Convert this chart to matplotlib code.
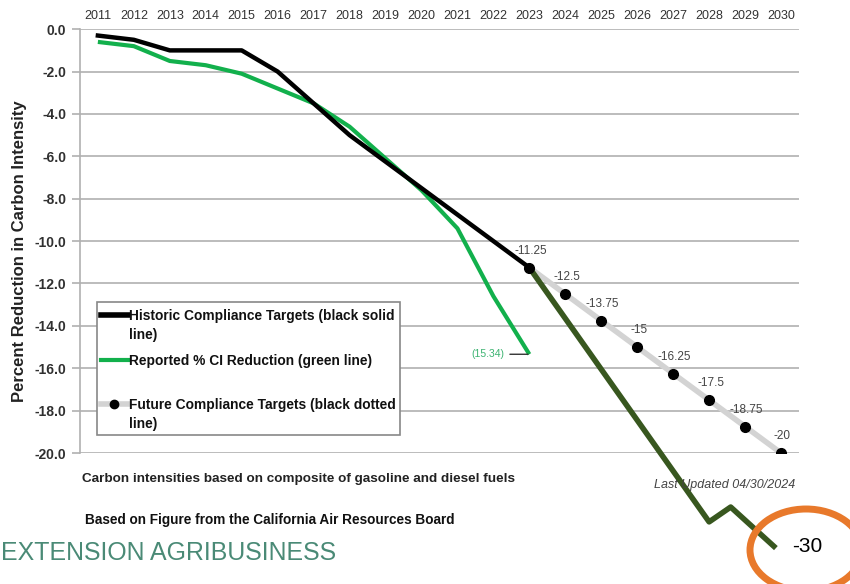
import matplotlib
matplotlib.use('Agg')
import matplotlib.pyplot as plt
from matplotlib.lines import Line2D
from matplotlib.patches import Ellipse, Rectangle
from matplotlib.transforms import ScaledTranslation

plt.rcParams['font.family'] = ['Liberation Sans', 'DejaVu Sans']

# data
years = [2011, 2012, 2013, 2014, 2015, 2016, 2017, 2018, 2019, 2020, 2021, 2022, 2023]
historic = [-0.3, -0.5, -1.0, -1.0, -1.0, -2.0, -3.5, -5.0, -6.25, -7.5, -8.75, -10.0, -11.25]
reported = [-0.6, -0.8, -1.5, -1.7, -2.1, -2.8, -3.5, -4.6, -6.1, -7.6, -9.4, -12.6, -15.34]

future_years = [2023, 2024, 2025, 2026, 2027, 2028, 2029, 2030]
future = [-11.25, -12.5, -13.75, -15, -16.25, -17.5, -18.75, -20]

# hand drawn trajectory toward -30 (runs below the plot area)
drawn_x = [2023, 2028, 2028.6, 2029.8]
drawn_y = [-11.25, -23.25, -22.55, -24.4]

year_ticks = list(range(2011, 2031))
y_ticks = [0, -2, -4, -6, -8, -10, -12, -14, -16, -18, -20]

W, H = 850, 584


def fx(px):
    return px / W


def fy(py):
    return 1 - py / H


fig = plt.figure(figsize=(8.5, 5.84), dpi=100)
ax = fig.add_axes([0.094, 0.2243, 0.846, 0.7257])

ax.set_xlim(2010.5, 2030.5)
ax.set_ylim(-20, 0)
ax.set_yticks(y_ticks)
ax.set_yticklabels([f'{v:.1f}' for v in y_ticks], fontweight='bold', fontsize=10, color='#303030')
ax.set_xticks(year_ticks)
ax.set_xticklabels([str(y) for y in year_ticks], fontsize=9, color='#333333')
ax.xaxis.tick_top()
ax.tick_params(axis='x', length=0, pad=5)
ax.tick_params(axis='y', length=6, color='#b0b0b0', width=1.2, pad=4)
ax.grid(axis='y', color='#b0b0b0', lw=1.2)
ax.set_axisbelow(True)
for s in ['top', 'right', 'bottom']:
    ax.spines[s].set_visible(False)
ax.spines['left'].set_color('#b0b0b0')
ax.spines['left'].set_linewidth(1.2)

ax.plot(years, reported, color='#12B04C', lw=3, zorder=3, solid_capstyle='butt')
ax.plot(years, historic, color='black', lw=3.2, zorder=4)
ax.plot(future_years, future, color='#d3d3d3', lw=4, zorder=5)
ax.plot(drawn_x, drawn_y, color='#38571f', lw=4, zorder=6, clip_on=False)
ax.plot(future_years, future, ls='none', marker='o', ms=7, color='black', zorder=7)

for x, v in zip(future_years, future):
    ax.annotate(f'{v:g}', (x, v), xytext=(1, 12), textcoords='offset points',
                ha='center', va='center', fontsize=8.5, color='#444444')

ax.annotate('(15.34)', (years[-1], reported[-1]), xytext=(-18, 0), textcoords='offset points',
            ha='right', va='center', fontsize=7.5, color='#3cb371',
            arrowprops=dict(arrowstyle='-', color='#333333', lw=1, shrinkA=2, shrinkB=1))

# legend box, drawn by hand to get the two-line entries like the original
fig.add_artist(Rectangle((fx(97), fy(435)), fx(400) - fx(97), fy(302) - fy(435),
                         transform=fig.transFigure, fc='white', ec='#888888', lw=1.2, zorder=10))
leg_items = [
    (315, dict(color='black', lw=4), 'Historic Compliance Targets (black solid\nline)'),
    (360, dict(color='#12B04C', lw=3), 'Reported % CI Reduction (green line)'),
    (404, dict(color='#d3d3d3', lw=4, marker='o', ms=6, mfc='black', mec='black', markevery=[1]),
     'Future Compliance Targets (black dotted\nline)'),
]
text_shift = ScaledTranslation(0, 6 / 100, fig.dpi_scale_trans)
for row_y, style, label in leg_items:
    fig.add_artist(Line2D([fx(101), fx(114), fx(128)], [fy(row_y)] * 3,
                          transform=fig.transFigure, zorder=11, **style))
    fig.text(fx(129), fy(row_y), label, ha='left', va='top', fontsize=9.9, fontweight='bold',
             color='#111111', linespacing=1.42, zorder=12,
             transform=fig.transFigure + text_shift)

fig.text(0.023, 0.57, 'Percent Reduction in Carbon Intensity', rotation=90,
         ha='center', va='center', fontsize=12, fontweight='bold', color='#222222')

fig.text(fx(82), fy(479), 'Carbon intensities based on composite of gasoline and diesel fuels',
         ha='left', va='center', fontsize=9.7, fontweight='bold', color='#222222')
fig.text(fx(795), fy(485), 'Last Updated 04/30/2024', ha='right', va='center',
         fontsize=9, style='italic', color='#444444', zorder=1)
fig.text(fx(85), fy(520), 'Based on Figure from the California Air Resources Board',
         ha='left', va='center', fontsize=9.8, fontweight='bold', color='#111111')
fig.text(fx(1), fy(553), 'EXTENSION AGRIBUSINESS', ha='left', va='center',
         fontsize=17.9, color='#4a8a76')

fig.text(fx(807), fy(546), '-30', ha='center', va='center', fontsize=15, color='black')
fig.add_artist(Ellipse((fx(806), fy(550)), 112 / W, 82 / H,
                       transform=fig.transFigure, fill=False, ec='#E8792B', lw=5))

fig.savefig('out.png', dpi=100)
